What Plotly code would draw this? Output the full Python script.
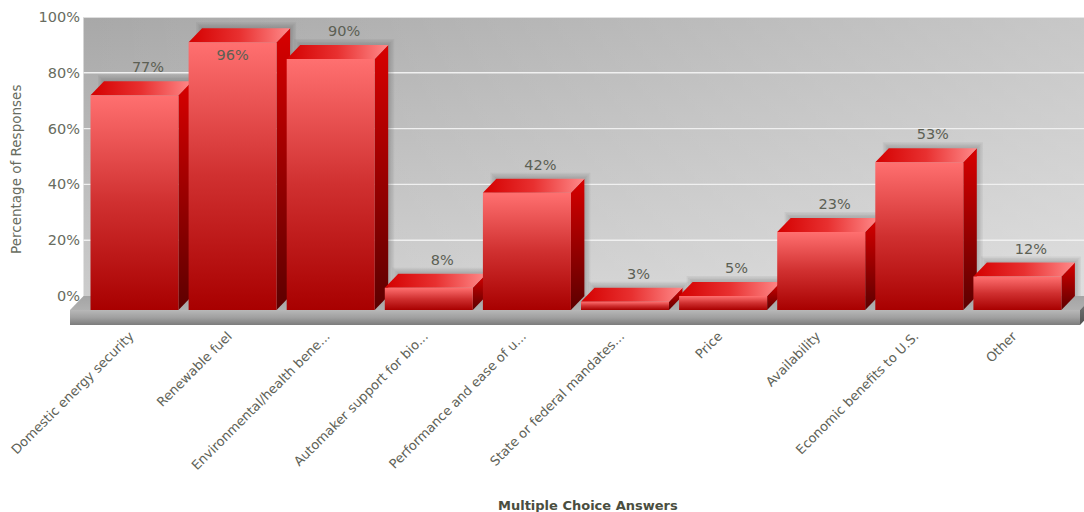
import plotly.graph_objects as go

categories = ["Domestic energy security", "Renewable fuel", "Environmental/health bene...",
              "Automaker support for bio...", "Performance and ease of u...",
              "State or federal mandates...", "Price", "Availability",
              "Economic benefits to U.S.", "Other"]
# heights as drawn in the picture (the Availability bar is drawn taller than its label)
values = [77, 96, 90, 8, 42, 3, 5, 28, 53, 12]
labels = ["77%", "96%", "90%", "8%", "42%", "3%", "5%", "23%", "53%", "12%"]
y_ticks = [0, 20, 40, 60, 80, 100]
y_tick_labels = ["0%", "20%", "40%", "60%", "80%", "100%"]

W, H = 1084, 512
PX_X = 98.1            # pixels per category
PX_Y = 2.79            # pixels per percent
CENTER0 = 134.5        # pixel of the first category centre
LEFT, RIGHT, TOP, BOTTOM = 70, 1084, 17, 325
FLOOR_END = 1080
ZERO_PX = 296
DX = 13.5 / PX_X       # depth offset, x units
DY = 14 / PX_Y         # depth offset, y units
HALF = 44 / PX_X       # half bar width
FLOOR = 15 / PX_Y      # floor slab thickness
LABEL_GAP = 12.5 / PX_Y
TICK_SHIFT = 4.5 / PX_X

x0 = (LEFT - CENTER0) / PX_X
x1 = (RIGHT - CENTER0) / PX_X
xf = (FLOOR_END - CENTER0) / PX_X
y0 = -(BOTTOM - ZERO_PX) / PX_Y
y1 = (ZERO_PX - TOP) / PX_Y


def poly(xs, ys, colors=None, kind="vertical", solid=None):
    t = dict(x=list(xs) + [xs[0]], y=list(ys) + [ys[0]], mode="lines", fill="toself",
             line=dict(width=0, color="rgba(0,0,0,0)"),
             hoverinfo="skip", showlegend=False, cliponaxis=False)
    if colors:
        t["fillgradient"] = dict(type=kind, colorscale=[[i / (len(colors) - 1), c] for i, c in enumerate(colors)])
    else:
        t["fillcolor"] = solid
    return go.Scatter(**t)


fig = go.Figure()
wall_l, wall_r = x0 + DX, x1

# back wall: vertical plus horizontal gradient gives the diagonal sheen
fig.add_trace(poly([wall_l, wall_r, wall_r, wall_l], [0, 0, 100, 100], ["#cccccc", "#a8a8a8"]))
fig.add_trace(poly([wall_l, wall_r, wall_r, wall_l], [0, 0, 100, 100],
                   ["rgba(255,255,255,0)", "rgba(255,255,255,0.36)"], "horizontal"))

# grid lines
gx, gy = [], []
for t in y_ticks[1:]:
    gx += [wall_l, wall_r, None]
    gy += [t, t, None]
fig.add_trace(go.Scatter(x=gx, y=gy, mode="lines", line=dict(color="#f0f0f0", width=1.4),
                         hoverinfo="skip", showlegend=False, cliponaxis=False))

# floor (its right end is cut by the edge of the picture)
rise = (x1 - xf) / DX * DY
fig.add_trace(poly([x0, xf, x1, x1, x0 + DX], [-DY, -DY, -DY + rise, 0, 0], ["#b0b0b0", "#a4a4a4"]))
fig.add_trace(poly([x0, xf, xf, x0], [-DY - FLOOR, -DY - FLOOR, -DY, -DY],
                   ["#7c7c7c", "#a0a0a0", "#b8b8b8"]))
fig.add_trace(poly([xf, x1, x1, xf], [-DY - FLOOR, -DY - FLOOR + rise, -DY + rise, -DY], ["#505050", "#707070"]))

# soft shadows on the wall
for e in (1.5, 3.0, 4.5, 6.0):
    for i, v in enumerate(values):
        ex = e / PX_X
        ey = e / PX_Y
        l, r = i - HALF + DX - ex, i + HALF + DX + ex
        fig.add_trace(poly([l, r, r, l], [0, 0, v + ey, v + ey], solid="rgba(70,70,70,0.07)"))

# 3D bars
for i, v in enumerate(values):
    l, r = i - HALF, i + HALF
    base, top = -DY, v - DY
    # side face
    fig.add_trace(poly([r, r + DX, r + DX, r], [base, 0, v, top], ["#5c0000", "#d80000"]))
    # top face
    fig.add_trace(poly([l, r, r + DX, l + DX], [top, top, v, v], ["#d40000", "#e83030", "#ff8a8a"], "horizontal"))
    # front face
    fig.add_trace(poly([l, r, r, l], [base, base, top, top], ["#a80000", "#d03030", "#ff7070"]))

# value labels
tx, ty = [], []
for i, v in enumerate(values):
    if v + DY > 100:
        tx.append(i)
        ty.append(v - 2 * DY)
    else:
        tx.append(i + DX)
        ty.append(v + LABEL_GAP)
fig.add_trace(go.Scatter(x=tx, y=ty, mode="text", text=labels,
                         textfont=dict(family="DejaVu Sans", size=14.5, color="#5c6054"),
                         textposition="middle center", hoverinfo="skip", showlegend=False, cliponaxis=False))

fig.update_layout(
    width=W, height=H, autosize=False,
    margin=dict(l=0, r=0, t=0, b=0),
    paper_bgcolor="white", plot_bgcolor="white",
    xaxis=dict(domain=[LEFT / W, RIGHT / W], range=[x0, x1], tickmode="array",
               tickvals=[i - TICK_SHIFT for i in range(len(categories))], ticktext=categories, tickangle=-45,
               tickfont=dict(family="DejaVu Sans", size=13, color="#5f6358"),
               showgrid=False, zeroline=False, showline=False, ticks="", automargin=False),
    yaxis=dict(domain=[1 - BOTTOM / H, 1 - TOP / H], range=[y0, y1], tickmode="array",
               tickvals=y_ticks, ticktext=y_tick_labels, anchor="free", position=(LEFT + 14) / W,
               ticklabelstandoff=4,
               tickfont=dict(family="DejaVu Sans", size=14.5, color="#686c60"),
               showgrid=False, zeroline=False, showline=False, ticks="", automargin=False),
    annotations=[
        dict(text="Multiple Choice Answers", xref="paper", yref="paper", x=588 / W, y=1 - 505 / H,
             showarrow=False, xanchor="center", yanchor="middle",
             font=dict(family="DejaVu Sans", size=13, color="#4a4e40", weight="bold")),
        dict(text="Percentage of Responses", xref="paper", yref="paper", x=16 / W, y=1 - 170 / H,
             showarrow=False, textangle=-90, xanchor="center", yanchor="middle",
             font=dict(family="DejaVu Sans", size=13.5, color="#686c60")),
    ],
)
fig.write_html("out.html", config=dict(displayModeBar=False),
               post_script="document.body.style.margin='0';document.documentElement.style.overflow='hidden';")
